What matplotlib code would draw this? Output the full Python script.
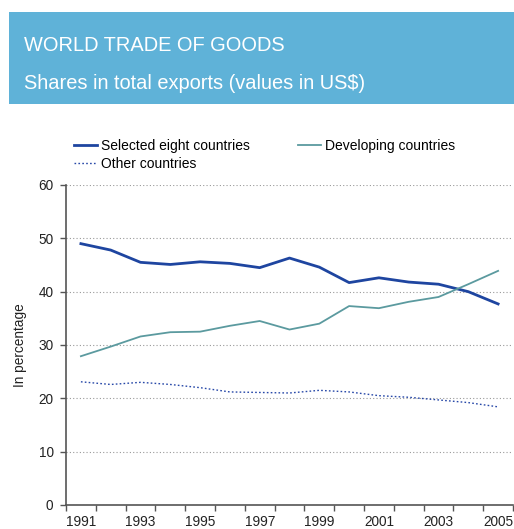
import matplotlib
matplotlib.use("Agg")
import matplotlib.pyplot as plt
from matplotlib.patches import Rectangle

plt.rcParams['font.family'] = ['Liberation Sans', 'DejaVu Sans']

years = list(range(1991, 2006))
selected_eight = [49.0, 47.8, 45.5, 45.1, 45.6, 45.3, 44.5, 46.3, 44.6, 41.7, 42.6, 41.8, 41.4, 40.0, 37.7]
developing = [27.9, 29.7, 31.6, 32.4, 32.5, 33.6, 34.5, 32.9, 34.0, 37.3, 36.9, 38.1, 39.0, 41.4, 43.9]
other = [23.1, 22.6, 23.0, 22.6, 22.0, 21.2, 21.1, 21.0, 21.5, 21.2, 20.5, 20.2, 19.7, 19.2, 18.4]
y_ticks = [0, 10, 20, 30, 40, 50, 60]

W, H = 514, 529
fig = plt.figure(figsize=(W / 100, H / 100), dpi=100)

# Header banner
fig.patches.append(Rectangle((9 / W, 1 - 104 / H), (W - 9) / W, 92 / H,
                             transform=fig.transFigure, facecolor='#5fb2d8',
                             edgecolor='none', zorder=0))
fig.text(24 / W, 1 - 51 / H, 'WORLD TRADE OF GOODS', color='white',
         fontsize=14.4, ha='left', va='baseline')
fig.text(24 / W, 1 - 89 / H, 'Shares in total exports (values in US$)', color='white',
         fontsize=14.4, ha='left', va='baseline')

ax = fig.add_axes([66 / W, 1 - 505 / H, (513 - 66) / W, (505 - 185) / H])
x = list(range(len(years)))

l_sel, = ax.plot(x, selected_eight, color='#1e45a0', lw=2.0, label='Selected eight countries', zorder=3)
l_dev, = ax.plot(x, developing, color='#5b9a9f', lw=1.3, label='Developing countries', zorder=3)
l_oth, = ax.plot(x, other, color='#2748a8', lw=1.0, ls=(0, (1.2, 1.6)), label='Other countries', zorder=3)

ax.set_xlim(-0.5, len(years) - 0.5)
ax.set_ylim(0, 60)
ax.set_yticks(y_ticks)
ax.set_xticks([i - 0.5 for i in range(len(years) + 1)], minor=True)
ax.set_xticks(x[::2])
ax.set_xticklabels([str(y) for y in years[::2]])
ax.tick_params(axis='x', which='major', length=0, pad=7, labelsize=9.8, colors='#222222')
ax.tick_params(axis='x', which='minor', length=4, width=1, color='#555555', direction='out')
ax.tick_params(axis='y', length=4, width=1, color='#555555', labelsize=9.8,
               labelcolor='#222222', pad=5)

ax.grid(axis='y', color='#999999', ls=(0, (1, 2)), lw=0.8, zorder=0)
ax.set_axisbelow(True)
for s in ['top', 'right']:
    ax.spines[s].set_visible(False)
for s in ['left', 'bottom']:
    ax.spines[s].set_color('#555555')
    ax.spines[s].set_linewidth(1.2)

ax.set_ylabel('In percentage', fontsize=9.8, color='#222222', labelpad=8)

# Legend is filled column by column, so order the entries to read row-wise
fig.legend([l_sel, l_oth, l_dev],
           ['Selected eight countries', 'Other countries', 'Developing countries'],
           loc='upper left', bbox_to_anchor=(74 / W, 1 - 139 / H),
           ncol=2, frameon=False, fontsize=10, handlelength=1.65, handletextpad=0.3,
           columnspacing=3.45, labelspacing=0.3, borderaxespad=0, borderpad=0)

fig.savefig('out.png', dpi=100, facecolor='white')
